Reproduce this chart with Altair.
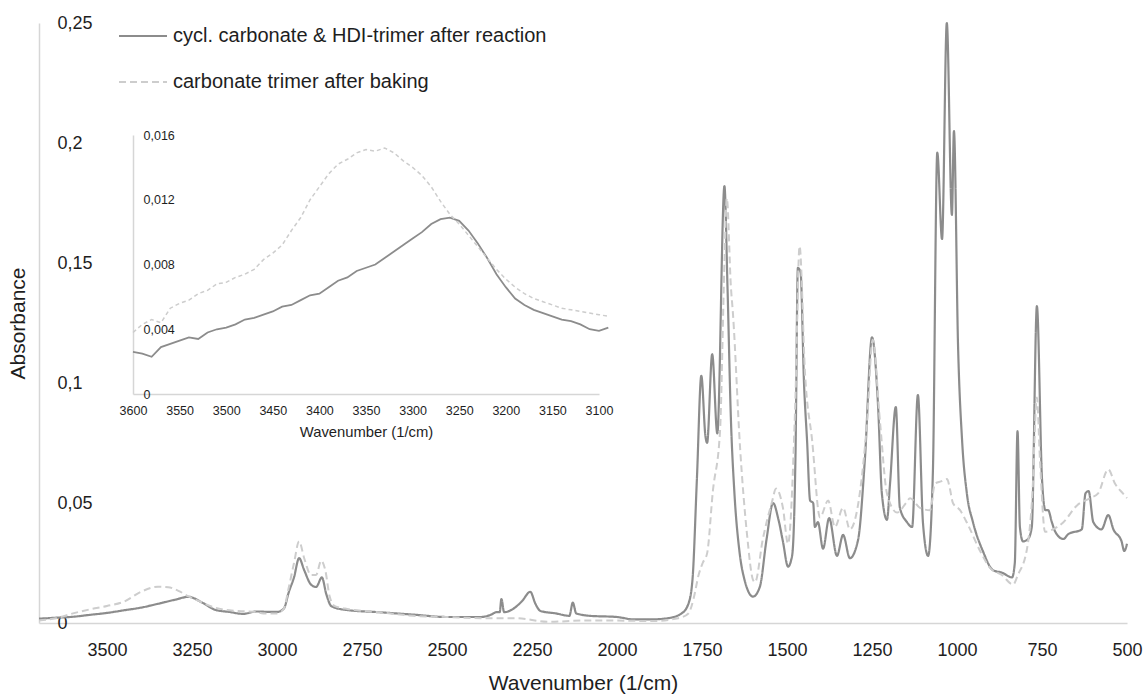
import altair as alt
import pandas as pd

SOLID = "cycl. carbonate & HDI-trimer after reaction"
DASHED = "carbonate trimer after baking"

# ---- main spectrum: solid curve (wavenumber, absorbance) ----
solid_wn = [3700, 3650, 3600, 3550, 3500, 3450, 3400, 3350, 3300, 3260, 3220, 3180, 3140, 3100,
            3060, 3040, 3000, 2980, 2965, 2950, 2935, 2920, 2900, 2885, 2868, 2855, 2840, 2800,
            2700, 2600, 2500, 2400, 2370, 2355, 2345, 2340, 2332, 2310, 2280, 2255, 2240, 2225,
            2180, 2140, 2130, 2120, 2080, 2000, 1950, 1900, 1850, 1810, 1790, 1778, 1765, 1752,
            1740, 1735, 1720, 1705, 1684, 1675, 1665, 1655, 1640, 1625, 1600, 1580, 1560, 1541,
            1525, 1512, 1497, 1485, 1475, 1468, 1460, 1450, 1441, 1432, 1423, 1418, 1409, 1394,
            1376, 1353, 1335, 1315, 1291, 1271, 1250, 1232, 1221, 1206, 1197, 1180, 1168, 1147,
            1132, 1115, 1100, 1085, 1071, 1058, 1044, 1030, 1015, 1009, 997, 985, 971, 953, 924,
            894, 868, 838, 830, 822, 815, 806, 791, 780, 765, 750, 740, 732, 721, 711, 687, 673,
            633, 622, 613, 599, 575, 555, 540, 516, 508, 500]
solid_abs = [0.0018, 0.0022, 0.0026, 0.0034, 0.0042, 0.0053, 0.0064, 0.0080, 0.0097, 0.0109, 0.0085,
             0.0054, 0.0046, 0.0038, 0.0048, 0.0047, 0.0046, 0.0060, 0.0130, 0.0190, 0.0270, 0.0220,
             0.0160, 0.0150, 0.0190, 0.0120, 0.0070, 0.0055, 0.0045, 0.0035, 0.0025, 0.0025, 0.0035,
             0.0045, 0.0045, 0.0100, 0.0045, 0.0055, 0.0090, 0.0130, 0.0080, 0.0050, 0.0040, 0.0030,
             0.0085, 0.0040, 0.0030, 0.0025, 0.0015, 0.0015, 0.0020, 0.0040, 0.0080, 0.0180, 0.0600,
             0.1030, 0.0780, 0.0750, 0.1120, 0.0790, 0.1820, 0.1400, 0.0850, 0.0550, 0.0300, 0.0180,
             0.0110, 0.0150, 0.0350, 0.0500, 0.0430, 0.0340, 0.0235, 0.0280, 0.0700, 0.1480, 0.1460,
             0.1000, 0.0760, 0.0510, 0.0500, 0.0400, 0.0420, 0.0310, 0.0437, 0.0280, 0.0367, 0.0270,
             0.0346, 0.0680, 0.1190, 0.0900, 0.0540, 0.0430, 0.0580, 0.0900, 0.0480, 0.0420, 0.0400,
             0.0950, 0.0415, 0.0280, 0.0625, 0.1960, 0.1600, 0.2500, 0.1700, 0.2050, 0.1160, 0.0760,
             0.0540, 0.0420, 0.0300, 0.0220, 0.0210, 0.0190, 0.0250, 0.0800, 0.0400, 0.0340, 0.0350,
             0.0400, 0.1320, 0.0600, 0.0470, 0.0470, 0.0420, 0.0380, 0.0350, 0.0370, 0.0390, 0.0540,
             0.0550, 0.0420, 0.0390, 0.0450, 0.0390, 0.0340, 0.0300, 0.0330]

# ---- main spectrum: dashed curve ----
dashed_wn = [3700, 3650, 3600, 3550, 3500, 3450, 3400, 3350, 3320, 3290, 3260, 3220, 3180, 3140,
             3100, 3060, 3040, 3000, 2980, 2965, 2950, 2935, 2920, 2900, 2885, 2870, 2858, 2845,
             2830, 2800, 2700, 2600, 2500, 2400, 2300, 2200, 2100, 2000, 1900, 1820, 1790, 1775,
             1760, 1748, 1735, 1718, 1697, 1684, 1677, 1665, 1659, 1638, 1618, 1600, 1594, 1571,
             1545, 1532, 1512, 1497, 1476, 1463, 1447, 1426, 1403, 1379, 1359, 1335, 1315, 1285,
             1265, 1248, 1226, 1206, 1176, 1150, 1138, 1109, 1079, 1065, 1047, 1029, 1021, 1012,
             991, 968, 932, 903, 868, 835, 821, 794, 779, 765, 756, 741, 718, 687, 647, 609, 585,
             555, 535, 512, 500]
dashed_abs = [0.0010, 0.0020, 0.0040, 0.0057, 0.0071, 0.0089, 0.0130, 0.0151, 0.0149, 0.0134, 0.0111,
              0.0085, 0.0063, 0.0053, 0.0049, 0.0045, 0.0040, 0.0040, 0.0060, 0.0150, 0.0250, 0.0340,
              0.0270, 0.0200, 0.0200, 0.0260, 0.0220, 0.0110, 0.0070, 0.0060, 0.0045, 0.0030, 0.0025,
              0.0020, 0.0020, 0.0005, 0.0010, 0.0010, 0.0008, 0.0020, 0.0040, 0.0100, 0.0200, 0.0250,
              0.0290, 0.0550, 0.0800, 0.1500, 0.1770, 0.1400, 0.1290, 0.0730, 0.0375, 0.0180, 0.0170,
              0.0350, 0.0500, 0.0560, 0.0480, 0.0330, 0.0900, 0.1570, 0.1040, 0.0760, 0.0440, 0.0510,
              0.0400, 0.0480, 0.0390, 0.0550, 0.0830, 0.1180, 0.0830, 0.0540, 0.0460, 0.0500, 0.0520,
              0.0480, 0.0470, 0.0580, 0.0590, 0.0600, 0.0560, 0.0500, 0.0470, 0.0410, 0.0300, 0.0230,
              0.0200, 0.0160, 0.0200, 0.0310, 0.0520, 0.0940, 0.0680, 0.0380, 0.0390, 0.0420, 0.0490,
              0.0520, 0.0540, 0.0640, 0.0580, 0.0540, 0.0520]

# ---- inset: 3600-3100 1/cm ----
inset_wn = [3600, 3590, 3580, 3570, 3560, 3550, 3540, 3530, 3520, 3510, 3500, 3490, 3480, 3470,
            3460, 3450, 3440, 3430, 3420, 3410, 3400, 3390, 3380, 3370, 3360, 3350, 3340, 3330,
            3320, 3310, 3300, 3290, 3280, 3270, 3260, 3250, 3240, 3230, 3220, 3210, 3200, 3190,
            3180, 3170, 3160, 3150, 3140, 3130, 3120, 3110, 3100, 3090]
inset_solid = [0.0026, 0.0025, 0.0023, 0.0029, 0.0031, 0.0033, 0.0035, 0.0034, 0.0038, 0.0040, 0.0041,
               0.0043, 0.0046, 0.0047, 0.0049, 0.0051, 0.0054, 0.0055, 0.0058, 0.0061, 0.0062, 0.0066,
               0.0070, 0.0072, 0.0076, 0.0078, 0.0080, 0.0084, 0.0088, 0.0092, 0.0096, 0.0100, 0.0105,
               0.0108, 0.0109, 0.0107, 0.0101, 0.0093, 0.0084, 0.0074, 0.0066, 0.0059, 0.0055, 0.0052,
               0.0050, 0.0048, 0.0046, 0.0045, 0.0043, 0.0040, 0.0039, 0.0041]
inset_dashed = [0.0038, 0.0043, 0.0046, 0.0044, 0.0053, 0.0056, 0.0058, 0.0062, 0.0064, 0.0068, 0.0069,
                0.0072, 0.0074, 0.0077, 0.0083, 0.0087, 0.0092, 0.0101, 0.0109, 0.0120, 0.0128, 0.0136,
                0.0142, 0.0145, 0.0149, 0.0151, 0.0150, 0.0152, 0.0149, 0.0144, 0.0140, 0.0135, 0.0128,
                0.0119, 0.0111, 0.0105, 0.0098, 0.0091, 0.0084, 0.0077, 0.0071, 0.0066, 0.0062, 0.0059,
                0.0057, 0.0055, 0.0053, 0.0052, 0.0051, 0.0050, 0.0049, 0.0048]

main_x_ticks = [3500, 3250, 3000, 2750, 2500, 2250, 2000, 1750, 1500, 1250, 1000, 750, 500]
main_y_ticks = [0, 0.05, 0.1, 0.15, 0.2, 0.25]
inset_x_ticks = [3600, 3550, 3500, 3450, 3400, 3350, 3300, 3250, 3200, 3150, 3100]
inset_y_ticks = [0, 0.004, 0.008, 0.012, 0.016]

FONT = "Liberation Sans"
TXT = "#1e1e1e"
AXC = "#d6d6d6"
C_SOLID = "#8c8c8c"
C_DASH = "#cdcdcd"
comma = "replace(format(datum.value, '~g'), '.', ',')"

main_df = pd.concat([
    pd.DataFrame({"wn": solid_wn, "absorbance": solid_abs, "series": SOLID}),
    pd.DataFrame({"wn": dashed_wn, "absorbance": dashed_abs, "series": DASHED}),
])
inset_df = pd.concat([
    pd.DataFrame({"wn": inset_wn, "absorbance": inset_solid, "series": SOLID}),
    pd.DataFrame({"wn": inset_wn, "absorbance": inset_dashed, "series": DASHED}),
])

legend = alt.Legend(
    title=None, orient="none", legendX=79, legendY=-12, symbolType="stroke",
    symbolSize=2304, symbolStrokeWidth=2, labelFontSize=20, labelFont=FONT,
    labelColor=TXT, labelOffset=5, rowPadding=11, padding=0, labelLimit=800,
)
color = alt.Color("series:N", scale=alt.Scale(domain=[SOLID, DASHED], range=[C_SOLID, C_DASH]), legend=legend)
dash = alt.StrokeDash("series:N", scale=alt.Scale(domain=[SOLID, DASHED], range=[[1, 0], [7, 4]]), legend=legend)

main_x = alt.X("wn:Q", scale=alt.Scale(domain=[3700, 500], nice=False, zero=False),
               axis=alt.Axis(values=main_x_ticks, format="d", orient="bottom", grid=False,
                             ticks=False, tickSize=0, domainColor=AXC, domainWidth=1.5,
                             labelFont=FONT, labelFontSize=18, labelColor=TXT, labelPadding=18,
                             labelFlush=False, labelOverlap=False,
                             title="Wavenumber (1/cm)", titleFont=FONT, titleFontSize=21,
                             titleFontWeight="normal", titleColor=TXT, titleY=60,
                             titleBaseline="middle"))
main_y = alt.Y("absorbance:Q", scale=alt.Scale(domain=[0, 0.25], nice=False),
               axis=alt.Axis(values=main_y_ticks, orient="left", grid=False, ticks=False,
                             tickSize=0, domainColor=AXC, domainWidth=1.5, labelFont=FONT,
                             labelFontSize=18, labelColor=TXT, labelAlign="left",
                             labelBaseline="middle", labelPadding=-18, labelExpr=comma,
                             labelOverlap=False, labelFlush=False,
                             title="Absorbance", titleFont=FONT, titleFontSize=21,
                             titleFontWeight="normal", titleColor=TXT, titleX=-21, titleY=300,
                             titleAngle=270, titleAlign="center", titleBaseline="middle"))

main_base = alt.Chart(main_df)
main_solid = main_base.transform_filter(alt.datum.series == SOLID).mark_line(
    strokeWidth=2.2, interpolate="monotone").encode(x=main_x, y=main_y, color=color, strokeDash=dash)
main_dashed = main_base.transform_filter(alt.datum.series == DASHED).mark_line(
    strokeWidth=2, interpolate="monotone").encode(x=main_x, y=main_y, color=color, strokeDash=dash)
main_layer = alt.layer(main_solid, main_dashed)

inset_x = alt.X("wn:Q", scale=alt.Scale(domain=[3600, 3100], range=[94, 560], nice=False, zero=False),
                axis=alt.Axis(values=inset_x_ticks, format="d", orient="bottom", offset=-229,
                              grid=False, ticks=False, tickSize=0, domainColor=AXC, domainWidth=1.5,
                              labelFont=FONT, labelFontSize=12.5, labelColor=TXT, labelPadding=10,
                              labelFlush=False, labelOverlap=False,
                              title="Wavenumber (1/cm)", titleFont=FONT, titleFontSize=14.8,
                              titleFontWeight="normal", titleColor=TXT, titleY=38,
                              titleBaseline="middle"))
inset_y = alt.Y("absorbance:Q", scale=alt.Scale(domain=[0, 0.016], range=[371, 112], nice=False),
                axis=alt.Axis(values=inset_y_ticks, orient="left", offset=-94, grid=False,
                              ticks=False, tickSize=0, domainColor=AXC, domainWidth=1.5,
                              labelFont=FONT, labelFontSize=12.5, labelColor=TXT, labelAlign="left",
                              labelBaseline="middle", labelPadding=-10, labelExpr=comma,
                              labelOverlap=False, labelFlush=False, title=None))

inset_base = alt.Chart(inset_df)
inset_solid_line = inset_base.transform_filter(alt.datum.series == SOLID).mark_line(
    strokeWidth=1.8, color=C_SOLID).encode(x=inset_x, y=inset_y)
inset_dashed_line = inset_base.transform_filter(alt.datum.series == DASHED).mark_line(
    strokeWidth=1.5, color=C_DASH, strokeDash=[4, 3]).encode(x=inset_x, y=inset_y)
inset_layer = alt.layer(inset_solid_line, inset_dashed_line)

chart = alt.layer(main_layer, inset_layer).resolve_scale(
    x="independent", y="independent"
).properties(
    width=1088, height=600,
    padding={"left": 39, "top": 23, "right": 18, "bottom": 74},
    autosize=alt.AutoSizeParams(type="none"),
    background="white",
).configure_view(strokeWidth=0)

chart.save("out.html", embed_options={"renderer": "svg", "actions": False})
